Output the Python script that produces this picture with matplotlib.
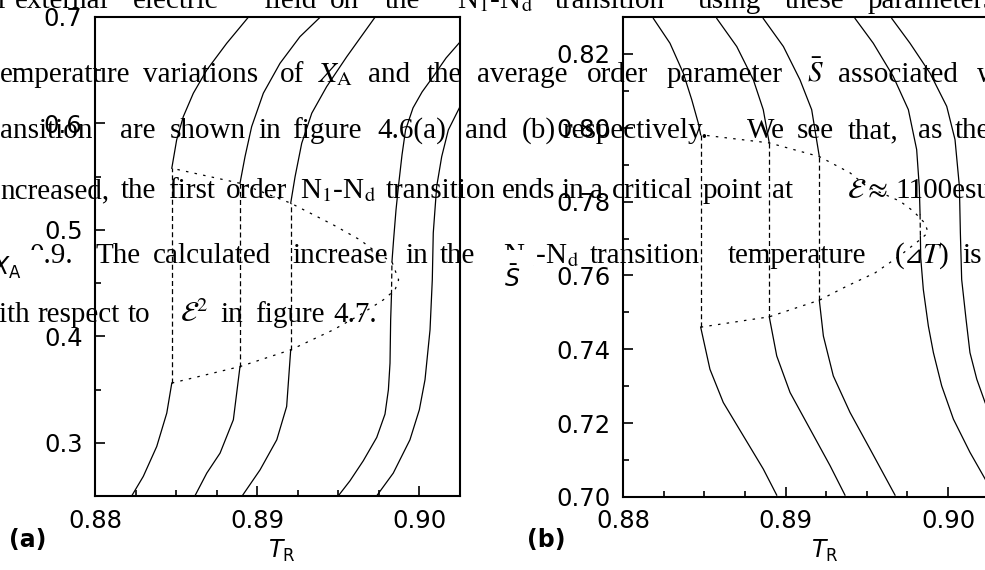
"""Two-panel X_A / S-bar vs T_R plot with overlaid thesis text."""
import matplotlib
matplotlib.use("Agg")
import matplotlib.pyplot as plt
from matplotlib.patches import Rectangle
from matplotlib.ticker import MultipleLocator

plt.rcParams["mathtext.fontset"] = "stix"

W, H = 985, 570

# ---- panel (a): X_A vs T_R ----
a1_low_T = [0.88227, 0.88298, 0.88381, 0.88443, 0.88474]
a1_low_X = [0.2502, 0.2684, 0.2965, 0.3279, 0.3561]
a1_up_T = [0.88474, 0.88504, 0.88545, 0.88607, 0.88690, 0.88813, 0.88946]
a1_up_X = [0.5579, 0.5845, 0.6064, 0.6284, 0.6502, 0.6753, 0.6997]

a2_low_T = [0.88617, 0.88690, 0.88772, 0.88854, 0.88895]
a2_low_X = [0.2502, 0.2715, 0.2903, 0.3216, 0.3716]
a2_up_T = [0.88895, 0.88926, 0.88967, 0.89039, 0.89142, 0.89265, 0.89389]
a2_up_X = [0.5438, 0.5688, 0.5970, 0.6284, 0.6565, 0.6815, 0.6997]

a3_low_T = [0.88909, 0.89019, 0.89122, 0.89183, 0.89208]
a3_low_X = [0.2502, 0.2746, 0.3028, 0.3341, 0.3873]
a3_up_T = [0.89208, 0.89235, 0.89276, 0.89338, 0.89430, 0.89554, 0.89728]
a3_up_X = [0.5251, 0.5500, 0.5814, 0.6096, 0.6346, 0.6627, 0.6997]

a4_low_T = [0.89502, 0.89574, 0.89656, 0.89739, 0.89790, 0.89811, 0.89821,
            0.89825, 0.89830]
a4_low_X = [0.2502, 0.2643, 0.2831, 0.3050, 0.3269, 0.3498, 0.3748,
            0.4155, 0.4390]
a4_up_T = [0.89833, 0.89843, 0.89858, 0.89874, 0.89895, 0.89917, 0.89963,
           0.90019, 0.90086, 0.90167, 0.90253]
a4_up_X = [0.4700, 0.4906, 0.5188, 0.5423, 0.5704, 0.5939, 0.6146,
           0.6296, 0.6437, 0.6615, 0.6765]

a5_T = [0.89739, 0.89841, 0.89944, 0.90002, 0.90037, 0.90068, 0.90082,
        0.90088, 0.90109, 0.90140, 0.90181, 0.90253]
a5_X = [0.2502, 0.2715, 0.3028, 0.3310, 0.3592, 0.4061, 0.4531,
        0.4972, 0.5407, 0.5688, 0.5939, 0.6158]

a_env_T = [0.88474, 0.88895, 0.89208, 0.89471, 0.89636, 0.89780, 0.89852,
           0.89874, 0.89833, 0.89759, 0.89636, 0.89471, 0.89208, 0.88895,
           0.88474]
a_env_X = [0.3561, 0.3716, 0.3873, 0.4061, 0.4202, 0.4343, 0.4437,
           0.4531, 0.4700, 0.4765, 0.4906, 0.5047, 0.5251, 0.5438,
           0.5579]

# ---- panel (b): S-bar vs T_R ----
b1_up_T = [0.88187, 0.88289, 0.88371, 0.88423, 0.88463, 0.88478]
b1_up_S = [0.8296, 0.8229, 0.8148, 0.8076, 0.8013, 0.7981]
b1_low_T = [0.88478, 0.88535, 0.88617, 0.88740, 0.88863, 0.88946]
b1_low_S = [0.7460, 0.7346, 0.7256, 0.7166, 0.7076, 0.7005]

b2_up_T = [0.88577, 0.88700, 0.88802, 0.88863, 0.88900]
b2_up_S = [0.8296, 0.8220, 0.8130, 0.8049, 0.7959]
b2_low_T = [0.88900, 0.88946, 0.89028, 0.89151, 0.89274, 0.89366]
b2_low_S = [0.7488, 0.7382, 0.7283, 0.7184, 0.7085, 0.7005]

b3_up_T = [0.88863, 0.88987, 0.89089, 0.89161, 0.89208]
b3_up_S = [0.8296, 0.8220, 0.8130, 0.8049, 0.7922]
b3_low_T = [0.89208, 0.89233, 0.89294, 0.89397, 0.89520, 0.89674]
b3_low_S = [0.7533, 0.7436, 0.7328, 0.7229, 0.7130, 0.7005]

b4_up_T = [0.89428, 0.89540, 0.89663, 0.89756, 0.89807, 0.89823, 0.89828]
b4_up_S = [0.8296, 0.8229, 0.8139, 0.8049, 0.7941, 0.7841, 0.7765]
b4_low_T = [0.89830, 0.89832, 0.89848, 0.89879, 0.89910, 0.89961, 0.90033,
            0.90135, 0.90228, 0.90271]
b4_low_S = [0.7705, 0.7648, 0.7562, 0.7463, 0.7391, 0.7301, 0.7211,
            0.7121, 0.7049, 0.7011]

b5_T = [0.89654, 0.89766, 0.89889, 0.89992, 0.90043, 0.90070, 0.90076,
        0.90084, 0.90111, 0.90135, 0.90177, 0.90228, 0.90271]
b5_S = [0.8296, 0.8229, 0.8148, 0.8058, 0.7968, 0.7841, 0.7715,
        0.7589, 0.7481, 0.7391, 0.7319, 0.7256, 0.7211]

b_env_T = [0.88478, 0.88900, 0.89208, 0.89377, 0.89551, 0.89705, 0.89828,
           0.89877, 0.89859, 0.89787, 0.89705, 0.89500, 0.89397, 0.89208,
           0.88900, 0.88478]
b_env_S = [0.7460, 0.7488, 0.7533, 0.7571, 0.7607, 0.7654, 0.7697,
           0.7716, 0.7741, 0.7774, 0.7801, 0.7841, 0.7878, 0.7922,
           0.7959, 0.7981]

a_jumps = [(a1_low_T, a1_low_X, a1_up_T, a1_up_X),
           (a2_low_T, a2_low_X, a2_up_T, a2_up_X),
           (a3_low_T, a3_low_X, a3_up_T, a3_up_X),
           (a4_low_T, a4_low_X, a4_up_T, a4_up_X)]
b_jumps = [(b1_up_T, b1_up_S, b1_low_T, b1_low_S),
           (b2_up_T, b2_up_S, b2_low_T, b2_low_S),
           (b3_up_T, b3_up_S, b3_low_T, b3_low_S),
           (b4_up_T, b4_up_S, b4_low_T, b4_low_S)]

fig = plt.figure(figsize=(W / 100, H / 100), dpi=100)
ax1 = fig.add_axes([95 / W, 1 - 496 / H, 365 / W, 479 / H])
ax2 = fig.add_axes([623 / W, 1 - 497 / H, 365 / W, 480 / H])

lw = 0.9
for tl, yl, tu, yu in a_jumps:
    ax1.plot(tl, yl, "k-", lw=lw)
    ax1.plot(tu, yu, "k-", lw=lw)
    ax1.plot([tl[-1], tu[0]], [yl[-1], yu[0]], "k-", lw=lw, dashes=(4, 2.5))
ax1.plot(a5_T, a5_X, "k-", lw=lw)
ax1.plot(a_env_T, a_env_X, "k-", lw=lw, dashes=(2, 5))

for tu, yu, tl, yl in b_jumps:
    ax2.plot(tu, yu, "k-", lw=lw)
    ax2.plot(tl, yl, "k-", lw=lw)
    ax2.plot([tu[-1], tl[0]], [yu[-1], yl[0]], "k-", lw=lw, dashes=(4, 2.5))
ax2.plot(b5_T, b5_S, "k-", lw=lw)
ax2.plot(b_env_T, b_env_S, "k-", lw=lw, dashes=(2, 5))

ax1.set_xlim(0.88, 0.90253)
ax1.set_ylim(0.25, 0.70)
ax1.yaxis.set_major_locator(MultipleLocator(0.1))
ax1.yaxis.set_minor_locator(MultipleLocator(0.05))
ax2.set_xlim(0.88, 0.90246)
ax2.set_ylim(0.70, 0.83)
ax2.yaxis.set_major_locator(MultipleLocator(0.02))
ax2.yaxis.set_minor_locator(MultipleLocator(0.01))
ax2.yaxis.set_major_formatter(plt.FormatStrFormatter("%.2f"))

for ax in (ax1, ax2):
    ax.xaxis.set_major_locator(MultipleLocator(0.01))
    ax.xaxis.set_minor_locator(MultipleLocator(0.0025))
    ax.xaxis.set_major_formatter(plt.FormatStrFormatter("%.2f"))
    for s in ax.spines.values():
        s.set_linewidth(1.5)
    ax.tick_params(which="both", direction="in", top=False, right=False,
                   width=1.2, labelsize=17.5)
    ax.tick_params(which="major", length=7, pad=9)
    ax.tick_params(which="minor", length=4)
ax1.yaxis.set_major_formatter(plt.FormatStrFormatter("%.1f"))


def ptext(x, y, s, **kw):
    fig.text(x / W, 1 - y / H, s, **kw)


# overlaid thesis text (word positions in pixels, baseline)
serif = dict(fontsize=21, family=["Liberation Serif", "DejaVu Sans"],
             va="baseline", ha="left", zorder=3)
ND = r"N$_1$-N$_\mathrm{d}$"
lines = [
    (8, [(-3, "r"), (15, "external"), (133, "electric"), (263, "field"),
         (330, "on"), (385, "the"), (457, ND), (555, "transition"),
         (698, "using"), (785, "these"), (868, "parameters")]),
    (82, [(0, "emperature"), (143, "variations"), (280, "of"),
          (318, r"$X_\mathrm{A}$"), (368, "and"), (427, "the"),
          (477, "average"), (587, "order"), (667, "parameter"),
          (807, r"$\bar{S}$"), (838, "associated"), (977, "with")]),
    (138, [(0, "ansition"), (120, "are"), (170, "shown"), (258, "in"),
           (292, "figure"), (377, "4.6(a)"), (465, "and"), (522, "(b)"),
           (562, "respectively."), (747, "We"), (797, "see"), (848, "that,"),
           (918, "as"), (955, "the")]),
    (198, [(0, "ncreased,"), (121, "the"), (168, "first"), (226, "order"),
           (300, ND), (386, "transition"), (502, "ends"), (561, "in"),
           (590, "a"), (612, "critical"), (703, "point"), (772, "at"),
           (847, r"$\mathcal{E}\approx$"), (895, "1100esu")]),
    (263, [(30, "0.9."), (95, "The"), (153, "calculated"), (292, "increase"),
           (405, "in"), (440, "the"), (503, ND), (590, "transition"),
           (728, "temperature"), (895, "("), (922, "$T$)"), (962, "is")]),
    (322, [(-21, "with"), (37, "respect"), (128, "to"),
           (180, r"$\mathcal{E}^2$"), (220, "in"), (255, "figure"),
           (333, "4.7.")]),
]
for yb, words in lines:
    for x, w in words:
        ptext(x, yb, w, **serif)
# right-triangle delta sign, drawn apart so the font fallback applies
ptext(904, 263, "\u22bf", fontsize=17, family=["DejaVu Sans"],
      va="baseline", ha="left", zorder=3)

# white boxes of the y labels hide part of the text
fig.add_artist(Rectangle((-5 / W, 1 - 292 / H), 49 / W, 42 / H,
                         transform=fig.transFigure, fc="white", ec="none",
                         zorder=4))
fig.add_artist(Rectangle((496 / W, 1 - 302 / H), 37 / W, 52 / H,
                         transform=fig.transFigure, fc="white", ec="none",
                         zorder=4))

lab = dict(fontsize=17, math_fontfamily="dejavusans", zorder=5)
ptext(6, 268, r"$X_\mathrm{A}$", ha="center", va="center", **lab)
ptext(512, 279, r"$\bar{S}$", ha="center", va="center", **lab)
ptext(282, 558, r"$T_\mathrm{R}$", ha="center", va="baseline", **lab)
ptext(825, 558, r"$T_\mathrm{R}$", ha="center", va="baseline", **lab)
ptext(9, 547, "(a)", fontsize=17, fontweight="bold", va="baseline")
ptext(527, 547, "(b)", fontsize=17, fontweight="bold", va="baseline")

fig.savefig("out.png", dpi=100)
